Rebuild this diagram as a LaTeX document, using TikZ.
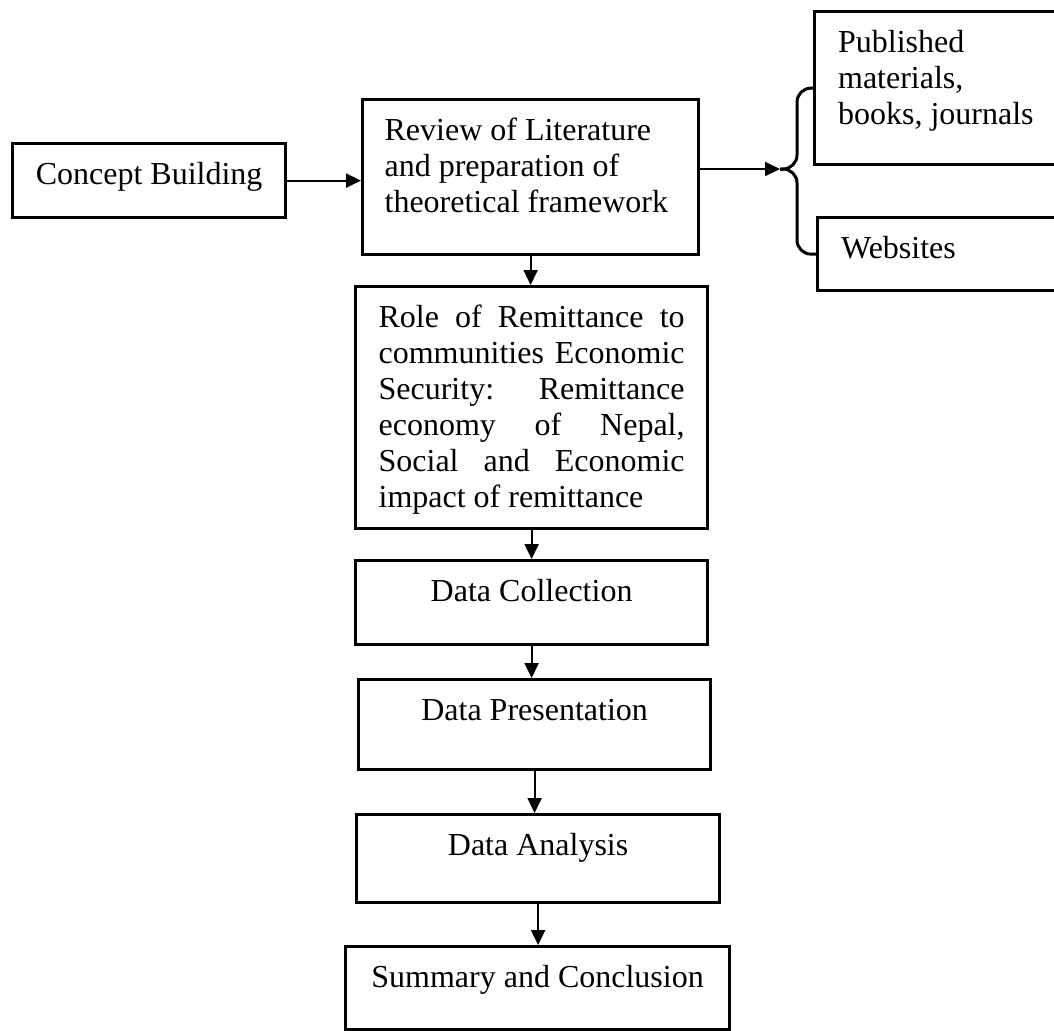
\documentclass[tikz,border=0pt]{standalone}
\usepackage{fontspec}
\setmainfont{Liberation Serif}
\usepackage{tikz}
\usetikzlibrary{arrows.meta,positioning,calc}
\tikzset{
  stagebox/.style={draw=black,line width=1.6pt,inner sep=0pt,anchor=north west,
                   text height=20.5pt,font=\fontsize{16}{18}\selectfont},
  flowarr/.style={-{Triangle[length=7.5pt,width=7pt]},line width=1.1pt},
  bracearm/.style={line width=1.5pt,rounded corners=7pt}
}

\begin{document}
\begin{tikzpicture}[x=0.5pt,y=-0.5pt]
      \clip (0,0) rectangle (1054,1030);
      \fill[white] (0,0) rectangle (1054,1030);

      % left: start and literature review
      \node[stagebox,minimum width=136.5pt,text depth=16.5pt] (concept) at (11,142) {Concept Building};
      \node[stagebox,minimum width=168pt,text depth=57pt] (review) at (361,98)
        {\parbox[t]{146pt}{\raggedright Review of Literature\\ and preparation of\\ theoretical framework}};

      % right: sources
      \node[stagebox,minimum width=125.5pt,text depth=56pt] (pub) at (813,10)
        {\parbox[t]{102pt}{\raggedright Published\\ materials,\\ books, journals}};
      \node[stagebox,minimum width=124pt,text depth=16pt] (web) at (816,216)
        {\parbox[t]{100.5pt}{Websites}};

      % main column
      \node[stagebox,minimum width=176pt,text depth=100.5pt] (role) at (354,285)
        {\parbox[t]{153pt}{Role of Remittance to\linebreak
          communities Economic\linebreak
          Security: Remittance\linebreak
          economy of Nepal,\linebreak
          Social and Economic\linebreak
          impact of remittance}};
      \node[stagebox,minimum width=176pt,text depth=21.5pt] (collect) at (354,559) {Data Collection};
      \node[stagebox,minimum width=176pt,text depth=24.5pt] (present) at (357,678) {Data Presentation};
      \node[stagebox,minimum width=181.5pt,text depth=23.5pt] (analysis) at (355,813) {Data Analysis};
      \node[stagebox,minimum width=192pt,text depth=21pt] (summary) at (344,945) {Summary and Conclusion};

      % brace towards the sources
      \coordinate (tip) at (780,169);
      \coordinate (spine) at (797,169);
      \draw[bracearm] (pub.west) -| (spine) -- (tip);
      \draw[bracearm] (web.west) -| (spine) -- (tip);

      % connecting arrows
      \draw[flowarr] (concept.east) -- (concept.east -| review.west);
      \draw[flowarr] (review.east |- tip) -- (tip);
      \foreach \a/\b in {review/role,role/collect,collect/present,present/analysis,analysis/summary} {
        \draw[flowarr] (\a.south) -- (\a.south |- \b.north);
      }
    \end{tikzpicture}
\end{document}
